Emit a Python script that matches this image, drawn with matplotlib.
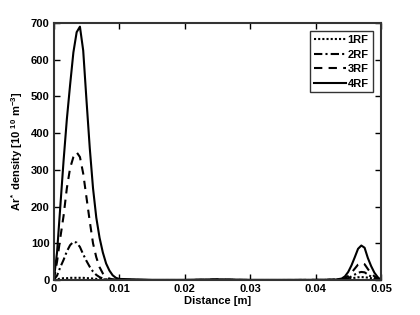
import matplotlib
matplotlib.use("Agg")
import matplotlib.pyplot as plt

plt.rcParams['font.family'] = ['Liberation Sans', 'DejaVu Sans']
plt.rcParams['font.weight'] = 'bold'
plt.rcParams['mathtext.fontset'] = 'custom'
plt.rcParams['mathtext.rm'] = 'Liberation Sans:bold'
plt.rcParams['mathtext.it'] = 'Liberation Sans:bold'
plt.rcParams['mathtext.bf'] = 'Liberation Sans:bold'

distance = [0, 0.0005, 0.001, 0.0015, 0.002, 0.0025, 0.003, 0.0035, 0.004, 0.0045,
            0.005, 0.0055, 0.006, 0.0065, 0.007, 0.0075, 0.008, 0.0085, 0.009, 0.0095,
            0.01, 0.015, 0.02, 0.025, 0.03, 0.035, 0.04, 0.043, 0.044, 0.0445,
            0.045, 0.0455, 0.046, 0.0465, 0.047, 0.0475, 0.048, 0.0485, 0.049, 0.0495, 0.05]

rf1 = [0, 2, 4, 5, 5, 6, 6, 6, 6, 6,
       5, 5, 4, 3, 3, 2, 1.5, 1, 0.5, 0.3,
       0.2, 0, 0, 0.3, 0, 0, 0.2, 0.8, 1.5, 2.5,
       3.5, 5, 6, 7.5, 8, 7.5, 6.5, 5, 3, 1.5, 0]
rf2 = [0, 12, 35, 55, 78, 95, 104, 102, 90, 70,
       52, 36, 23, 14, 8, 4, 2, 1, 0.5, 0.3,
       0.1, 0, 0, 0.5, 0, 0, 0.2, 0.5, 1.2, 2.5,
       5, 10, 15, 20, 22, 21, 15, 9, 5, 2, 0]
rf3 = [0, 50, 115, 175, 250, 305, 335, 348, 335, 290,
       225, 160, 100, 62, 35, 18, 9, 4, 2, 1,
       0.5, 0, 0, 1, 0, 0, 0.3, 0.8, 2, 5,
       11, 20, 31, 42, 46, 43, 30, 18, 10, 4, 0]
rf4 = [0, 75, 200, 325, 438, 532, 620, 675, 690, 625,
       490, 360, 250, 170, 115, 75, 45, 26, 13, 6,
       3, 0.5, 0.5, 2, 0.5, 0.5, 0.5, 1, 4, 10,
       22, 40, 62, 85, 94, 88, 60, 38, 20, 8, 0]

labels = ['1RF', '2RF', '3RF', '4RF']
x_ticks = [0, 0.01, 0.02, 0.03, 0.04, 0.05]
x_tick_labels = ['0', '0.01', '0.02', '0.03', '0.04', '0.05']
y_ticks = [0, 100, 200, 300, 400, 500, 600, 700]

fig = plt.figure(figsize=(4.2, 3.15), dpi=100)
ax = fig.add_axes([0.128, 0.111, 0.779, 0.816])

lw = 1.5
ax.plot(distance, rf1, color='black', lw=lw, linestyle=(0, (1, 1)), label=labels[0])
ax.plot(distance, rf2, color='black', lw=lw, linestyle=(0, (4, 1.5, 1, 1.5)), label=labels[1])
ax.plot(distance, rf3, color='black', lw=lw, linestyle=(0, (4, 3)), label=labels[2])
ax.plot(distance, rf4, color='black', lw=lw, linestyle='-', label=labels[3])

ax.set_xlim(0, 0.05)
ax.set_ylim(0, 700)
ax.set_xticks(x_ticks)
ax.set_xticklabels(x_tick_labels)
ax.set_yticks(y_ticks)
ax.tick_params(direction='in', length=4, width=1, labelsize=8, top=True, right=True, pad=3)
for lab in ax.get_xticklabels() + ax.get_yticklabels():
    lab.set_fontweight('bold')
for s in ax.spines.values():
    s.set_linewidth(1.5)
    s.set_color('#333333')

ax.set_xlabel('Distance [m]', fontsize=8, fontweight='bold', labelpad=1)
ax.set_ylabel(r'Ar$^*$ density [10 $^{10}$ m$^{-3}$]', fontsize=8, fontweight='bold', labelpad=4)

leg = ax.legend(loc='upper right', frameon=True, fancybox=False,
                handlelength=2.9, handletextpad=0.15, labelspacing=0.4,
                borderpad=0.35, borderaxespad=0.75, prop={'weight': 'bold', 'size': 8})
leg.get_frame().set_edgecolor('black')
leg.get_frame().set_linewidth(1.0)

fig.savefig('out.png', dpi=100)
